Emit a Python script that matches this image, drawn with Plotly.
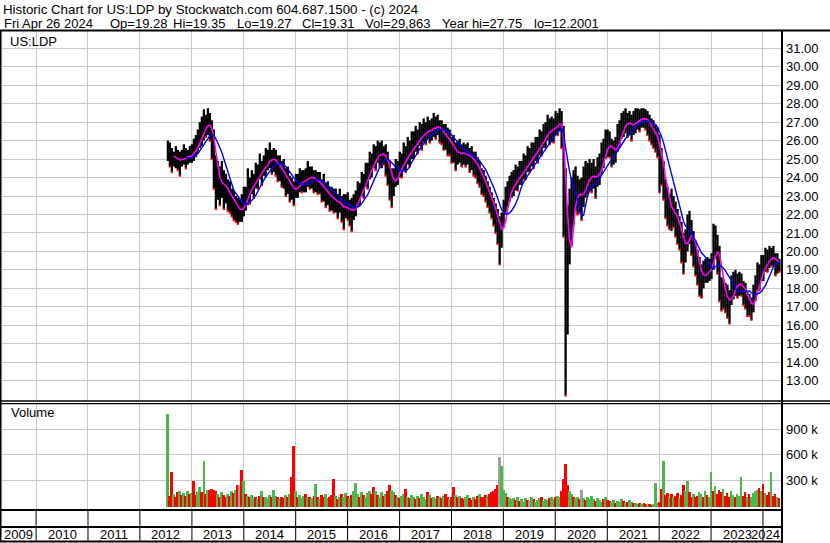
import plotly.graph_objects as go
import pandas as pd

# ---------------- data (2-week bars) ----------------
high = [
    26.0, 25.9, 25.6, 25.4, 25.7, 25.5, 25.4, 25.5, 25.8, 25.6, 25.5, 25.7,
    25.8, 26.1, 26.3, 26.6, 27.0, 27.3, 27.7, 27.4, 27.75, 27.5, 27.1,
    26.6, 25.2, 24.9, 24.6, 24.9, 24.4, 24.2, 23.9, 23.8, 23.4, 23.3, 23.0, 22.9, 22.8, 23.1, 23.5,
    23.5, 24.5, 24.0, 24.4, 24.2, 24.8, 24.7, 25.3, 24.9, 25.2, 25.6, 25.5, 25.9, 25.5, 25.6,
    25.5, 25.2, 25.2, 24.9, 25.0, 24.5, 24.6, 24.1, 24.0, 23.8, 24.2, 24.2, 24.5, 24.4, 24.4, 24.5, 24.9, 24.6,
    24.6, 24.4, 24.4, 24.3, 24.3, 23.9, 24.2, 23.7, 23.8, 23.5, 23.5, 23.4, 23.4, 23.1, 23.4, 23.0, 23.1, 23.1, 23.2, 22.8, 22.9, 23.1,
    23.3, 23.8, 23.7, 24.3, 24.2, 24.8, 24.8, 25.4, 25.3, 25.8, 25.7, 26.0, 25.9, 26.0, 25.7, 25.8, 25.4, 24.9, 24.5,
    24.5, 25.0, 24.9, 25.4, 25.3, 25.9, 25.7, 26.2, 26.0, 26.5, 26.5, 26.8, 26.6, 27.0, 26.9, 27.2, 27.0, 27.3, 27.1, 27.2, 27.5, 27.3, 27.4, 27.1,
    27.1, 26.9, 26.9, 26.7, 26.6, 26.2, 26.3, 25.9, 26.0, 26.1, 25.8, 25.9, 25.8, 25.9, 25.6, 25.7, 25.4, 25.4, 25.1, 24.9, 24.5,
    24.4, 24.1, 23.8, 23.5, 23.2, 22.9, 22.6, 22.3, 21.9, 22.1, 22.8, 23.5, 23.8, 24.1, 24.3,
    24.4, 24.7, 24.6, 24.9, 24.9, 25.3, 25.2, 25.7, 25.6, 25.9, 25.9, 26.2, 26.2, 26.6, 26.5, 26.9, 27.0, 27.4, 27.2, 27.3, 27.2, 27.6, 27.5, 27.75, 27.6,
    26.8, 24.5, 22.5, 23.4, 24.0, 24.4, 24.6, 24.1, 23.9, 24.0, 24.6, 24.9, 24.8, 25.0,
    24.8, 25.0, 24.6, 25.1, 25.3, 25.9, 26.1, 26.6, 26.6, 26.5, 26.1, 26.0, 26.2, 26.9, 27.1, 27.5, 27.6, 27.75, 27.5, 27.6,
    27.4, 27.6, 27.75, 27.75, 27.7, 27.75, 27.75, 27.7, 27.6, 27.4, 27.2, 27.1, 26.9, 26.7, 26.3, 25.6,
    24.9, 23.9, 23.5, 23.1, 23.4, 23.0, 22.7, 22.3, 21.9, 21.6, 21.0, 21.2, 22.0, 22.2, 21.7, 21.1, 20.6, 20.1, 19.7,
    19.3, 19.5, 19.6, 19.7, 19.6, 19.9, 21.5, 21.4, 20.9, 20.3, 18.6, 18.5, 18.3, 18.2, 17.9, 18.7, 18.9, 19.0, 18.8, 18.9,
    18.8, 18.4, 18.3, 17.8, 17.7, 17.5, 18.2, 18.7, 19.4, 19.3, 19.8, 19.8, 20.2, 20.1, 20.3, 20.2, 20.3, 19.9, 19.9, 19.6,
]
low = [
    24.9, 24.6, 24.3, 24.6, 24.5, 24.4, 24.1, 24.6, 24.7, 24.5, 24.7, 24.8,
    24.8, 24.9, 25.1, 25.3, 25.6, 25.7, 26.0, 26.2, 26.3, 26.0, 25.0,
    23.4, 22.3, 22.8, 22.5, 22.9, 22.3, 22.6, 22.2, 22.1, 21.9, 21.7, 21.6, 21.5, 21.6, 21.6, 21.9,
    22.2, 22.5, 22.6, 23.1, 22.9, 23.4, 23.4, 23.9, 23.6, 24.1, 24.0, 24.4, 24.5, 24.2, 24.3,
    24.1, 23.8, 23.8, 23.5, 23.4, 23.0, 23.1, 22.7, 22.8, 22.5, 22.9, 22.9, 23.2, 23.2, 23.2, 23.2, 23.5, 23.4,
    23.4, 23.2, 23.2, 23.1, 23.1, 22.7, 22.7, 22.4, 22.5, 22.2, 22.2, 22.1, 22.1, 21.8, 22.1, 21.6, 21.2, 21.8, 21.7, 21.4, 21.1, 21.7,
    21.9, 22.4, 22.5, 23.0, 22.9, 23.5, 23.4, 23.9, 24.0, 24.5, 24.4, 24.8, 24.6, 24.5, 24.7, 24.1, 23.6, 22.8, 22.4,
    23.0, 23.5, 23.6, 24.0, 24.0, 24.4, 24.3, 24.7, 24.6, 25.0, 25.0, 25.4, 25.3, 25.7, 25.5, 25.9, 25.8, 26.1, 25.9, 26.0, 26.2, 26.1, 26.3, 25.9,
    25.8, 25.5, 25.5, 25.2, 25.2, 24.8, 24.8, 24.4, 24.7, 24.8, 24.6, 24.7, 24.6, 24.7, 24.3, 24.4, 24.1, 24.0, 23.7, 23.5, 23.1,
    23.0, 22.7, 22.4, 22.1, 21.8, 21.4, 21.0, 20.4, 19.3, 20.2, 21.3, 22.1, 22.4, 22.7, 22.9,
    23.0, 23.3, 23.3, 23.6, 23.6, 23.9, 23.9, 24.3, 24.3, 24.6, 24.5, 24.9, 24.8, 25.2, 25.2, 25.6, 25.6, 26.0, 25.8, 25.9, 25.9, 26.3, 26.3, 26.5, 25.6,
    20.8, 12.2, 15.5, 19.3, 20.3, 21.4, 22.2, 22.0, 22.1, 21.7, 22.4, 22.9, 23.1, 23.3,
    23.2, 23.4, 22.9, 23.5, 23.6, 24.2, 24.5, 25.0, 25.1, 25.1, 24.6, 24.7, 24.8, 25.4, 25.6, 26.1, 26.2, 26.4, 26.2, 26.3,
    26.0, 26.3, 26.4, 26.6, 26.5, 26.7, 26.7, 26.6, 26.3, 26.0, 25.8, 25.6, 25.4, 25.1, 23.2, 23.6,
    22.8, 21.8, 21.4, 21.2, 21.1, 21.3, 20.8, 20.4, 20.1, 19.4, 18.8, 19.4, 20.0, 20.4, 19.8, 19.2, 18.7, 18.2, 17.6,
    17.5, 18.0, 18.3, 18.3, 18.4, 18.5, 19.0, 19.6, 18.8, 17.3, 16.8, 16.9, 16.7, 16.4, 16.1, 17.1, 17.4, 17.6, 17.5, 17.6,
    17.6, 17.1, 16.9, 16.5, 16.5, 16.3, 16.7, 17.3, 17.9, 17.9, 18.4, 18.4, 18.9, 18.9, 19.1, 19.2, 19.2, 18.7, 18.8, 18.9,
]
volume_k = [
    1080, 130, 400, 150, 120, 170, 190, 140, 160, 130, 180, 150,
    160, 300, 140, 170, 230, 170, 530, 150, 200, 200, 210,
    200, 180, 150, 120, 170, 140, 110, 150, 130, 180, 160, 200, 260, 250, 430, 300,
    150, 130, 110, 140, 100, 120, 90, 130, 190, 110, 120, 100, 140, 120, 200,
    130, 110, 90, 120, 100, 140, 110, 150, 350, 710, 180, 120, 140, 100, 130, 150, 110, 120,
    100, 130, 270, 120, 90, 140, 110, 150, 100, 120, 140, 330, 130, 90, 110, 150, 120, 160, 130, 100, 140, 190,
    280, 150, 120, 170, 140, 110, 160, 180, 150, 230, 190, 140, 120, 170, 130, 150, 180, 250, 200,
    170, 140, 120, 100, 130, 150, 210, 120, 100, 140, 110, 90, 130, 100, 150, 120, 90, 170, 140, 100, 120, 90, 130, 110,
    100, 130, 150, 110, 90, 120, 230, 140, 110, 130, 100, 90, 120, 140, 100, 80, 110, 90, 130, 150, 120,
    110, 140, 130, 150, 170, 190, 210, 250, 580, 470, 200, 160, 120, 100, 90,
    100, 80, 110, 70, 90, 60, 100, 80, 70, 110, 90, 60, 80, 100, 110, 70, 90, 80, 100, 120, 90, 110, 130, 120, 180,
    320, 500, 250, 180, 150, 120, 100, 110, 90, 200, 100, 80, 110, 90,
    130, 90, 70, 100, 80, 60, 90, 110, 80, 70, 60, 80, 50, 70, 60, 90, 70, 50, 60, 80,
    60, 40, 50, 30, 40, 30, 40, 30, 20, 30, 20, 30, 280, 40, 60, 210,
    530, 140, 160, 120, 150, 110, 130, 160, 100, 140, 260, 180, 300, 170, 120, 150, 110, 130, 170,
    150, 120, 190, 140, 110, 410, 180, 240, 150, 200, 170, 210, 130, 160, 120, 190, 140, 110, 150, 130,
    350, 130, 170, 120, 150, 110, 160, 180, 200, 220, 180, 270, 160, 140, 170, 400, 130, 150, 120, 100,
]
# volume bar colour read per bar: g = up (green), r = down (red), x = unchanged (grey)
volume_dir = (
    "grrgrrgrgrgr" "grrggrgrgrr" "rrgrgrrgrgrgrxrg" "rgrggrgrgrgggrg"
    "grgrrgrgrrgrgggrgr" "grgrgrrggrrrgrgrggrgrg" "ggrgrgggrrgrggrgrrg"
    "grgrggrgrggrgrgggrgrggrg" "rgrrgrrgrgrrggrrgrrgr" "rrgrrrrrxgggrgg"
    "grgrgggrxgrgggrgggrggrggr" "rrrggrggrxgrgg" "ggrgggrgrrggrgggrgrg"
    "grggrgrrgrrgggrr" "grrgrgrrgrrggrrgrrg" "grgrggrgrrrgrrrggrgg"
    "grrgrggggrgrgrrgrrgr"
)
assert len(high) == len(low) == len(volume_k) == len(volume_dir)

first_bar = "2012-07-16"
last_bar = "2024-04-26"
year_starts = [f"{y}-01-01" for y in range(2010, 2025)]
year_labels = [str(y) for y in range(2009, 2025)]
price_ticks = list(range(13, 32))
vol_ticks = [300, 600, 900]

header1 = "Historic Chart for US:LDP by Stockwatch.com 604.687.1500 - (c) 2024"
header2 = ["Fri Apr 26 2024", "Op=19.28", "Hi=19.35", "Lo=19.27", "Cl=19.31",
           "Vol=29,863", "Year hi=27.75", "lo=12.2001"]

# ---------------- derived (moving averages of the bar mid-prices) ----------------
dates = pd.date_range(first_bar, last_bar, periods=len(high))
mid = pd.Series([(h + l) / 2 for h, l in zip(high, low)])
ma_short = mid.rolling(4).mean()
ma_long = mid.rolling(10).mean()
diff = mid.diff()
cmap = {"g": "#4cb84c", "r": "#ff0000", "x": "#a0a0a0"}
vol_colors = [cmap[c] for c in volume_dir]

bx, by = [], []
for d, h, l in zip(dates, high, low):
    bx += [d, d, None]
    by += [l, h, None]
rx = [d for d, dd in zip(dates, diff) if not pd.isna(dd) and dd < 0]
ry = [l for l, dd in zip(low, diff) if not pd.isna(dd) and dd < 0]

# ---------------- layout helpers ----------------
W, H = 830, 543
FONT = "Arial, 'Liberation Sans', sans-serif"
GRID = "#c8c8c8"


def px(x):
    return x / W


def py(y):
    return 1 - y / H


fig = go.Figure()
fig.add_trace(go.Scatter(x=bx, y=by, mode="lines", line=dict(color="black", width=2.3),
                         xaxis="x", yaxis="y", hoverinfo="skip"))
fig.add_trace(go.Scatter(x=rx, y=ry, mode="markers",
                         marker=dict(color="#ff0000", size=2.2, symbol="square", line=dict(width=0)),
                         xaxis="x", yaxis="y", hoverinfo="skip"))
fig.add_trace(go.Scatter(x=dates, y=ma_short, mode="lines", line=dict(color="#ff00ff", width=1.6),
                         xaxis="x", yaxis="y", hoverinfo="skip"))
fig.add_trace(go.Scatter(x=dates, y=ma_long, mode="lines", line=dict(color="#0000ff", width=1.4),
                         xaxis="x", yaxis="y", hoverinfo="skip"))
fig.add_trace(go.Bar(x=dates, y=volume_k, marker=dict(color=vol_colors, line=dict(width=0)),
                     width=14 * 86400000, xaxis="x2", yaxis="y2", hoverinfo="skip"))

xr = ["2009-04-22", "2024-05-14"]
xcommon = dict(type="date", range=xr, tickvals=year_starts, showticklabels=False, ticks="",
               showgrid=True, gridcolor=GRID, gridwidth=1, zeroline=False, showline=False,
               domain=[0, px(782)])
fig.update_layout(
    width=W, height=H, margin=dict(l=0, r=0, t=0, b=0),
    paper_bgcolor="white", plot_bgcolor="white", showlegend=False, bargap=0,
    xaxis=dict(anchor="y", **xcommon),
    xaxis2=dict(anchor="y2", matches="x", **xcommon),
    yaxis=dict(domain=[py(400), py(31)], range=[11.955, 31.935], side="right", anchor="x",
               tickvals=price_ticks, ticktext=[f"{v}.00" for v in price_ticks], ticks="",
               ticklabelstandoff=3,
               tickfont=dict(family=FONT, size=13, color="black"),
               showgrid=True, gridcolor=GRID, gridwidth=1, zeroline=False, showline=False),
    yaxis2=dict(domain=[py(509.5), py(403.5)], range=[-37, 1198], side="right", anchor="x2",
                tickvals=vol_ticks, ticktext=[f"{v} k" for v in vol_ticks], ticks="",
                ticklabelstandoff=3,
                tickfont=dict(family=FONT, size=13, color="black"),
                showgrid=True, gridcolor=GRID, gridwidth=1, zeroline=False, showline=False),
)

shapes = []


def hline(y, x0, x1, w):
    shapes.append(dict(type="line", xref="paper", yref="paper", x0=px(x0), x1=px(x1),
                       y0=py(y), y1=py(y), line=dict(color="black", width=w)))


def vline(x, y0, y1, w):
    shapes.append(dict(type="line", xref="paper", yref="paper", x0=px(x), x1=px(x),
                       y0=py(y0), y1=py(y1), line=dict(color="black", width=w)))


hline(30.5, 0, 830, 2)
hline(401, 0, 830, 1.3)
hline(403.7, 0, 830, 1.3)
hline(510, 0, 782, 2)
hline(527, 0, 782, 2)
hline(541.5, 0, 782, 2)
vline(0.75, 30, 542, 1.5)
vline(782, 30, 543, 2)
for ys in year_starts:
    shapes.append(dict(type="line", xref="x", yref="paper", x0=ys, x1=ys,
                       y0=py(541), y1=py(510), line=dict(color="black", width=1)))
fig.update_layout(shapes=shapes)

ann = []
ann.append(dict(text=header1, x=px(1), y=py(9.5), xref="paper", yref="paper",
                xanchor="left", yanchor="middle", showarrow=False,
                font=dict(family=FONT, size=13.3, color="black")))
h2x = [1.7, 108, 170.7, 235, 300, 363, 440, 532]
for t, x in zip(header2, h2x):
    ann.append(dict(text=t, x=px(x), y=py(23), xref="paper", yref="paper",
                    xanchor="left", yanchor="middle", showarrow=False,
                    font=dict(family=FONT, size=13, color="black")))
ann.append(dict(text="US:LDP", x=px(8), y=py(41.5), xref="paper", yref="paper",
                xanchor="left", yanchor="middle", showarrow=False,
                font=dict(family=FONT, size=13, color="black")))
ann.append(dict(text="Volume", x=px(9), y=py(413), xref="paper", yref="paper",
                xanchor="left", yanchor="middle", showarrow=False,
                font=dict(family=FONT, size=13, color="black")))
bounds = [pd.Timestamp(xr[0])] + [pd.Timestamp(s) for s in year_starts] + [pd.Timestamp(xr[1])]
for i, lab in enumerate(year_labels):
    a, b = bounds[i], bounds[i + 1]
    if lab == "2024":
        ann.append(dict(text=lab, x=b, y=py(534), xref="x", yref="paper", xanchor="right",
                        yanchor="middle", showarrow=False,
                        font=dict(family=FONT, size=13, color="black")))
    else:
        c = a + (b - a) / 2
        ann.append(dict(text=lab, x=c, y=py(534), xref="x", yref="paper", xanchor="center",
                        yanchor="middle", showarrow=False,
                        font=dict(family=FONT, size=13, color="black")))
fig.update_layout(annotations=ann)

fig.write_html("out.html", config={"displayModeBar": False},
               post_script="document.body.style.margin='0px';document.body.style.overflow='hidden';")
